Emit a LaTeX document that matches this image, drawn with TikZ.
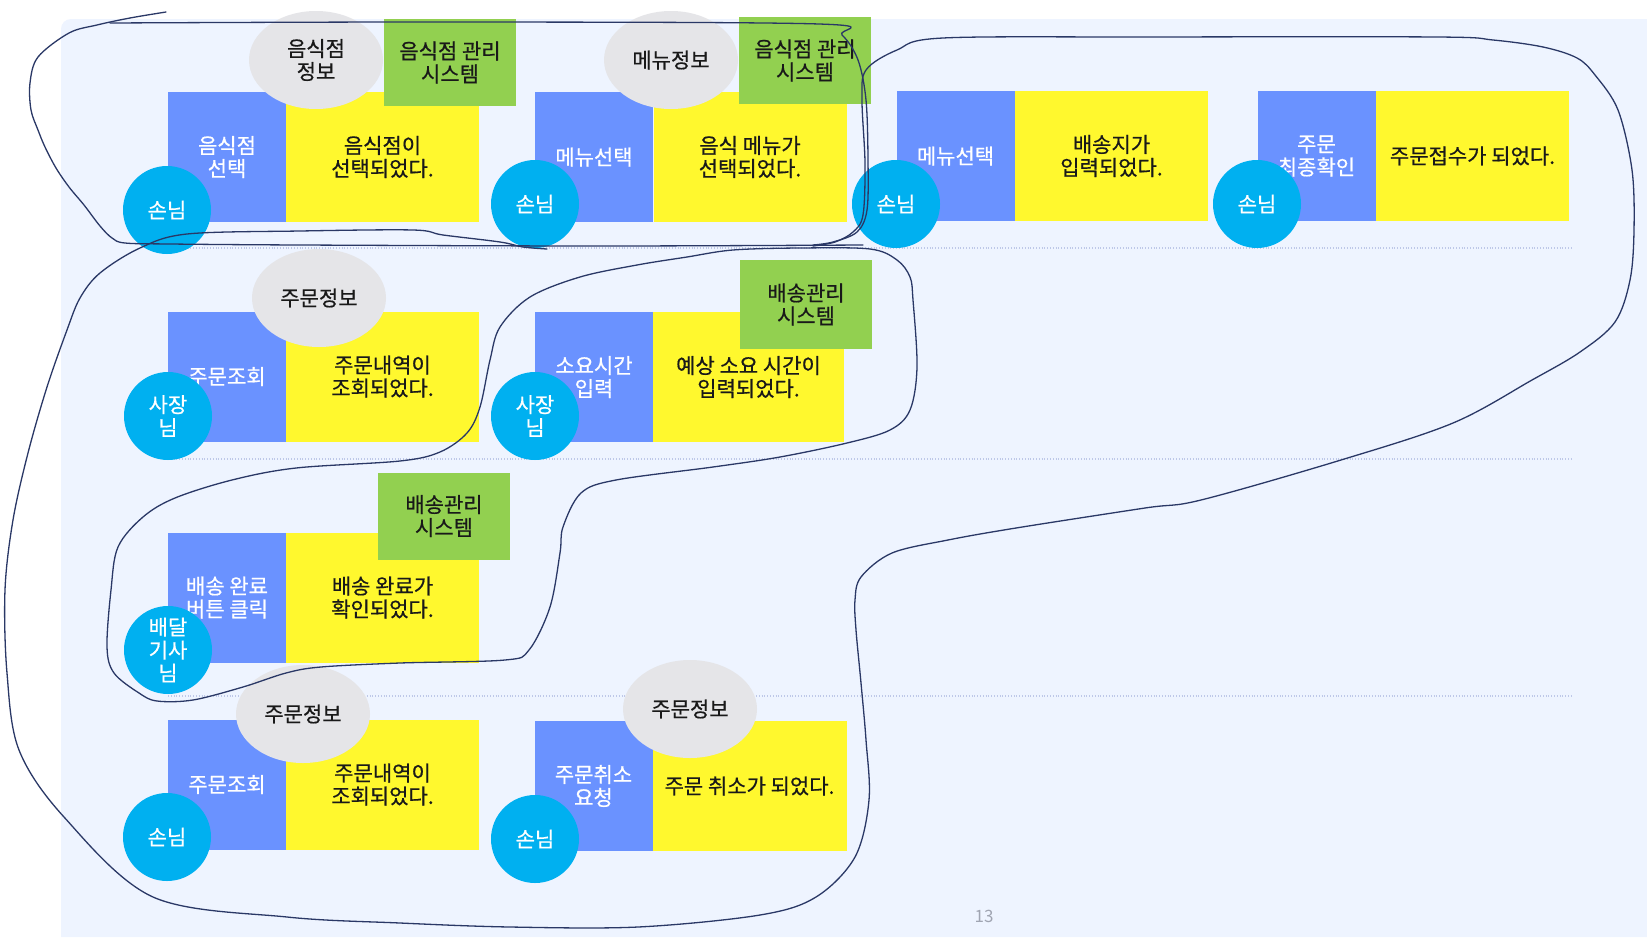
\documentclass[tikz,border=0pt]{standalone}
\usepackage{fontspec}
\setmainfont{Noto Sans CJK KR}
\newfontfamily\cardfam{Noto Sans CJK KR}[FakeBold=0.6]
\usetikzlibrary{shapes.geometric}
\definecolor{cardblue}{RGB}{106,146,255}
\definecolor{cardyel}{RGB}{255,248,46}
\definecolor{infogrey}{RGB}{229,229,232}
\definecolor{sysgreen}{RGB}{146,208,80}
\definecolor{actcyan}{RGB}{0,176,240}
\definecolor{panelbg}{RGB}{238,244,255}
\definecolor{penblue}{RGB}{42,56,102}
\definecolor{sepcol}{RGB}{190,200,232}
\definecolor{numgrey}{RGB}{160,165,178}
\newcommand\cardfont{\cardfam\fontsize{10.5pt}{11.5pt}\selectfont}
\tikzset{
 bluebox/.style={rectangle, fill=cardblue, text=white, minimum width=59pt, minimum height=65pt, inner sep=0pt, align=center, font=\cardfont},
 yelbox/.style={rectangle, fill=cardyel, text=black!90, minimum width=96.5pt, minimum height=65pt, inner sep=0pt, align=center, font=\cardfont},
 infoell/.style={ellipse, fill=infogrey, text=black!90, minimum width=67pt, minimum height=49pt, inner sep=0pt, align=center, font=\cardfont},
 sysbox/.style={rectangle, fill=sysgreen, text=black!90, minimum width=66pt, minimum height=43.5pt, inner sep=0pt, align=center, font=\cardfont},
 actor/.style={circle, fill=actcyan, text=white, minimum size=44pt, inner sep=0pt, align=center, font=\cardfont},
 hand/.style={draw=penblue, line width=0.65pt, line cap=round, line join=round},
 sepline/.style={draw=sepcol, line width=0.6pt, dash pattern=on 0.4pt off 1pt}
}
\begin{document}
\begin{tikzpicture}[x=0.5pt,y=-0.5pt]
\useasboundingbox (0,0) rectangle (1647,937);
\fill[white] (0,0) rectangle (1647,937);
\fill[panelbg] (61,937) [rounded corners=5pt]-- (61,19) [sharp corners]-- (1647,19) -- (1647,937) -- cycle;
% separators
\draw[sepline] (168,248) -- (1572,248);
\draw[sepline] (168,459) -- (1572,459);
\draw[sepline] (168,696) -- (1572,696);
% row 1
\node[bluebox] (b1) at (227,157) {음식점\\선택};
\node[yelbox] (y1) at (382.5,157) {음식점이\\선택되었다.};
\node[infoell] (i1) at (316,60) {음식점\\정보};
\node[sysbox] (s1) at (450,62.5) {음식점 관리\\시스템};
\node[actor] (a1) at (167,210) {손님};
\node[bluebox] (b2) at (594,157) {메뉴선택};
\node[yelbox] (y2) at (750,157) {음식 메뉴가\\선택되었다.};
\node[infoell] (i2) at (671,60) {메뉴정보};
\node[sysbox] (s2) at (805,60.5) {음식점 관리\\시스템};
\node[actor] (a2) at (535,204) {손님};
\node[bluebox] (b3) at (955.5,156) {메뉴선택};
\node[yelbox] (y3) at (1111.5,156) {배송지가\\입력되었다.};
\node[actor] (a3) at (896,204) {손님};
\node[bluebox] (b4) at (1316.5,156) {주문\\최종확인};
\node[yelbox] (y4) at (1472.5,156) {주문접수가 되었다.};
\node[actor] (a4) at (1257,204) {손님};
% row 2
\node[bluebox] (b5) at (227,376.5) {주문조회};
\node[yelbox] (y5) at (382.5,376.5) {주문내역이\\조회되었다.};
\node[infoell] (i5) at (319,298) {주문정보};
\node[actor] (a5) at (168,416) {사장\\님};
\node[bluebox] (b6) at (594,377) {소요시간\\입력};
\node[yelbox, minimum width=95.5pt] (y6) at (748.5,377) {예상 소요 시간이\\입력되었다.};
\node[sysbox, minimum height=44.5pt] (s6) at (806,304.5) {배송관리\\시스템};
\node[actor] (a6) at (535,416) {사장\\님};
% row 3
\node[bluebox] (b7) at (227,597.5) {배송 완료\\버튼 클릭};
\node[yelbox] (y7) at (382.5,597.5) {배송 완료가\\확인되었다.};
\node[sysbox] (s7) at (444,516) {배송관리\\시스템};
\node[actor] (a7) at (168,650) {배달\\기사\\님};
% row 4
\node[bluebox] (b8) at (227,784.5) {주문조회};
\node[yelbox] (y8) at (382.5,784.5) {주문내역이\\조회되었다.};
\node[infoell] (i8) at (303,714) {주문정보};
\node[actor] (a8) at (167,837) {손님};
\node[bluebox] (b9) at (593.5,786) {주문취소\\요청};
\node[yelbox, minimum width=97pt] (y9) at (749.5,786) {주문 취소가 되었다.};
\node[infoell] (i9) at (690,709) {주문정보};
\node[actor] (a9) at (535,839) {손님};
% hand-drawn loops
\draw[hand] plot[smooth, tension=0.55] coordinates {(166,12) (130,18) (97,25) (69,33) (38,57) (30,83) (31,110) (38,130) (45,147) (56,168) (69,187) (84,205) (100,226) (112,238) (125,243) (170,244) (300,245) (600,246) (863,245)};
\draw[hand] plot[smooth, tension=0.55] coordinates {(110,23) (450,22) (819,24) (842,35) (858,60) (866,100) (868,160) (867,210) (857,232) (833,242) (813,245)};
\draw[hand] plot[smooth, tension=0.55] coordinates {(547,249) (523,247) (500,242) (443,235) (413,230) (300,231) (187,234) (140,248) (100,273) (80,298) (67,330) (47,387) (28,453) (13,520) (5,590) (7,673) (19,750) (64,817) (153,897) (287,917) (400,923) (510,927) (638,927) (760,915) (816,897) (855,857) (869,800) (866,740) (861,683) (856,630) (855,600) (861,577) (892,553) (948,540) (1016,528) (1145,508) (1201,500) (1341,460) (1453,423) (1532,380) (1580,352) (1615,322) (1630,280) (1634,230) (1632,170) (1618,110) (1595,75) (1577,58) (1543,47) (1493,40) (1437,37) (1149,37) (943,38) (897,50) (866,70) (862,100) (865,163) (863,215) (853,232) (835,242) (813,246)};
\draw[hand] plot[smooth cycle, tension=0.55] coordinates {(870,249) (897,260) (910,277) (913,300) (917,367) (910,410) (890,430) (847,443) (780,457) (713,467) (616,480) (581,493) (563,527) (560,553) (550,607) (529,650) (505,660) (400,663) (321,667) (286,673) (243,687) (193,700) (157,701) (139,693) (114,673) (107,647) (111,590) (118,547) (143,517) (175,498) (232,480) (296,468) (400,461) (440,452) (467,433) (480,407) (490,360) (500,327) (530,297) (580,277) (637,265) (687,257) (733,250) (800,248)};
% page number
\node[text=numgrey, font=\fontsize{8.5pt}{10pt}\selectfont] (pg) at (984,916) {13};
\end{tikzpicture}
\end{document}
